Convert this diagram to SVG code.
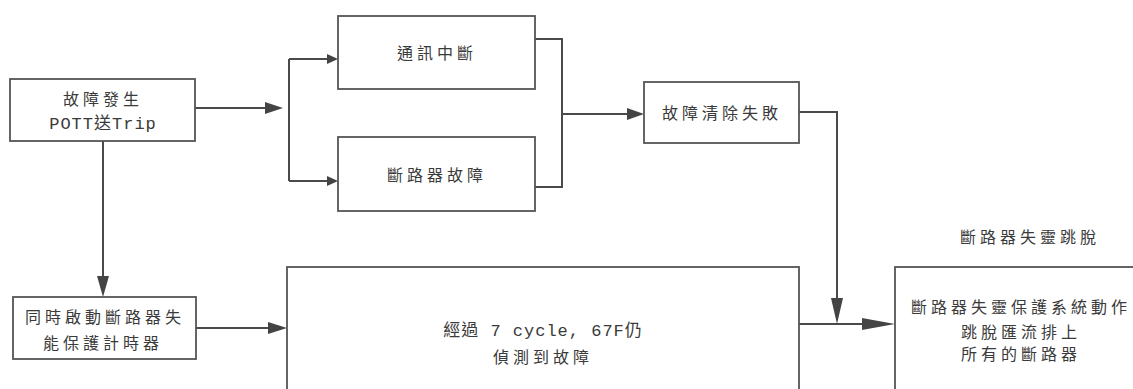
<svg xmlns="http://www.w3.org/2000/svg" width="1133" height="389" viewBox="0 0 1133 389">
<style>
.box{fill:#fff;stroke:#555;stroke-width:1.8}
.ln{fill:none;stroke:#4a4a4a;stroke-width:2}
.ah{fill:#444;stroke:none}
text{font-family:"Noto Sans CJK TC","Liberation Mono",monospace;font-size:16px;fill:#3a3a3a;text-anchor:middle;letter-spacing:4px}
.mx{font-family:"Liberation Mono","Noto Sans CJK TC",monospace;letter-spacing:1px;font-size:17px}
</style>
<rect width="1133" height="389" fill="#fff"/>
<g id="connectors">
<path class="ln" d="M195,108 H270"/>
<polygon class="ah" points="265,102 283,108 265,114"/>
<path class="ln" d="M289,59 V181 M289,59 H330 M289,181 H330"/>
<polygon class="ah" points="327,54 338,59 327,64"/>
<polygon class="ah" points="327,176 338,181 327,186"/>
<path class="ln" d="M535,39 H562 V187 H535 M562,114 H632"/>
<polygon class="ah" points="627,108 644,114 627,120"/>
<path class="ln" d="M799,112 H837 V305"/>
<polygon class="ah" points="831,298 837,324 843,298"/>
<path class="ln" d="M799,324 H870"/>
<polygon class="ah" points="862,318 895,324 862,330"/>
<path class="ln" d="M103,141 V280"/>
<polygon class="ah" points="97,276 103,297 109,276"/>
<path class="ln" d="M196,328 H272"/>
<polygon class="ah" points="268,322 287,328 268,334"/>
</g>
<g id="n1">
<rect class="box" x="10" y="79" width="185" height="62"/>
<text x="103" y="105">故障發生</text>
<text class="mx" x="103" y="129">POTT送Trip</text>
</g>
<g id="n2">
<rect class="box" x="338" y="16" width="197" height="73"/>
<text x="437" y="59">通訊中斷</text>
</g>
<g id="n3">
<rect class="box" x="338" y="137" width="197" height="74"/>
<text x="437" y="181">斷路器故障</text>
</g>
<g id="n4">
<rect class="box" x="644" y="82" width="155" height="61"/>
<text x="722" y="119">故障清除失敗</text>
</g>
<g id="n5">
<rect class="box" x="13" y="297" width="183" height="62"/>
<text x="105" y="323">同時啟動斷路器失</text>
<text x="103" y="349">能保護計時器</text>
</g>
<g id="n6">
<rect class="box" x="287" y="267" width="512" height="160"/>
<text class="mx" x="543" y="336">經過 7 cycle, 67F仍</text>
<text x="543" y="363">偵測到故障</text>
</g>
<g id="n7">
<text x="1030" y="243">斷路器失靈跳脫</text>
<rect class="box" x="895" y="267" width="260" height="160"/>
<text x="1021" y="313">斷路器失靈保護系統動作</text>
<text x="1021" y="338">跳脫匯流排上</text>
<text x="1021" y="360">所有的斷路器</text>
</g>
</svg>
